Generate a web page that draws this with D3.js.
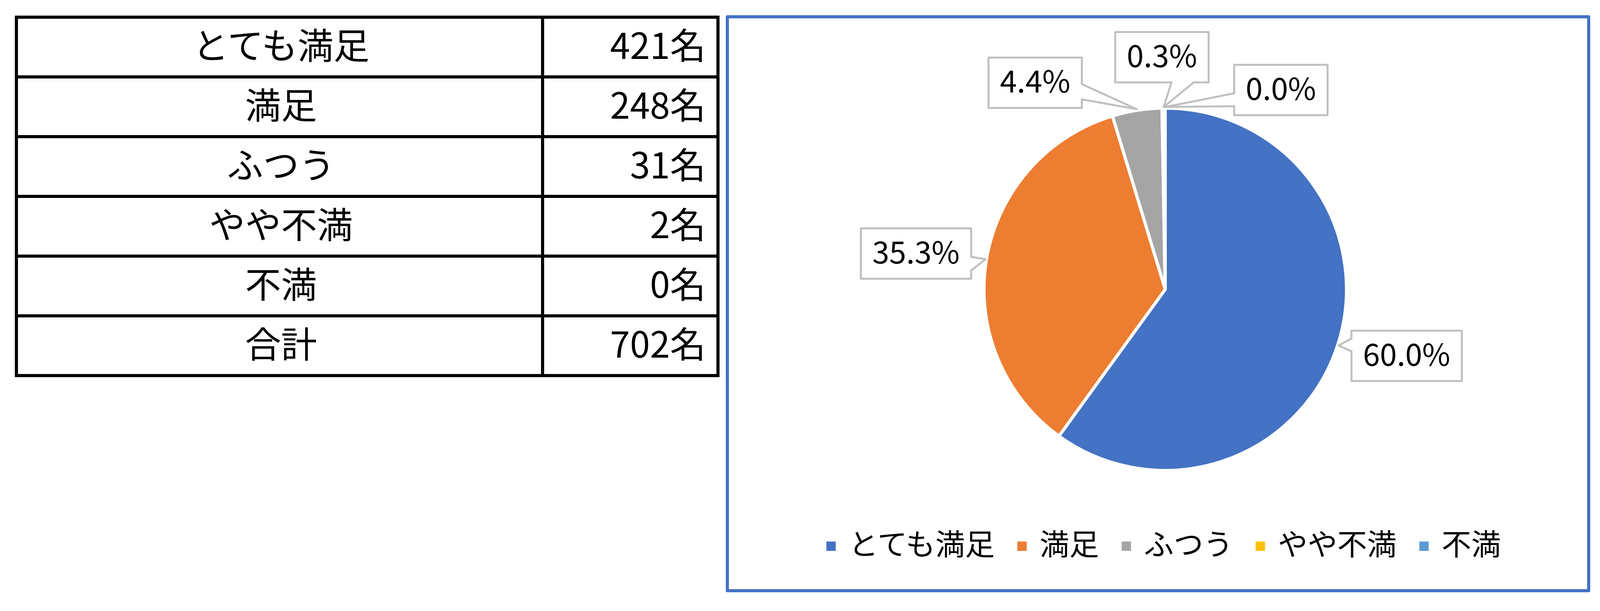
<!DOCTYPE html>
<html>
<head>
<meta charset="utf-8">
<script src="https://cdn.jsdelivr.net/npm/d3@7"></script>
<style>
  body { margin: 0; background: #fff; }
  text { font-family: "Noto Sans CJK JP", "Noto Sans", sans-serif; fill: #000; }
</style>
</head>
<body>
<svg id="js_chart" width="4133" height="1565"></svg>
<script>
// data
const categories = ["とても満足", "満足", "ふつう", "やや不満", "不満"]
const counts = [421, 248, 31, 2, 0]
const total_label = "合計"
const colors = ["#4472C4", "#ED7D31", "#A5A5A5", "#FFC000", "#5B9BD5"]

// callout layout: box centre offset from the pie centre, side the pointer leaves from, pointer base offsets
const callout_offsets = [[618, 170.5], [-638, -91.5], [-333, -529], [-8.5, -594.5], [296, -510.5]]
const callout_sides = ["left", "right", "right", "bottom", "left"]
const callout_bases = [[20, 53], [73, 108], [68, 107], [144, 201], [73, 106]]

window.onload = function() {
  let svg = d3.select("#js_chart")
  svg.append("rect").attr("width", 4133).attr("height", 1565).attr("fill", "#fff")
  render_table(svg)
  render_pie(svg)
}

function render_table(svg){
  let total = d3.sum(counts)
  let row_labels = categories.concat([total_label])
  let row_values = counts.concat([total])

  let y = d3.scaleBand().domain(row_labels).range([44, 962])
  let x = d3.scaleOrdinal().domain(["label", "value"]).range([[42, 1389], [1389, 1838]])

  let g = svg.append("g")
  let rows = g.selectAll("g.row").data(row_labels).enter().append("g").attr("class", "row")

  rows.each(function(d, i){
    let row = d3.select(this)
    ;["label", "value"].forEach(col => {
      let [x0, x1] = x(col)
      row.append("rect")
        .attr("x", x0).attr("y", y(d))
        .attr("width", x1 - x0).attr("height", y.bandwidth())
        .attr("fill", "none").attr("stroke", "#000").attr("stroke-width", 8)
    })
    let [lx0, lx1] = x("label")
    let [vx0, vx1] = x("value")
    row.append("text")
      .attr("x", (lx0 + lx1) / 2 + 4).attr("y", y(d) + 107)
      .attr("text-anchor", "middle").attr("font-size", 92)
      .text(d)
    row.append("text")
      .attr("x", vx1 - 31).attr("y", y(d) + 107)
      .attr("text-anchor", "end").attr("font-size", 92)
      .text(row_values[i] + "名")
  })
}

function render_pie(svg){
  let cx = 2983, cy = 741, radius = 464
  let total = d3.sum(counts)

  // chart frame
  svg.append("rect")
    .attr("x", 1862).attr("y", 43).attr("width", 2205).attr("height", 1470)
    .attr("fill", "none").attr("stroke", "#4472C4").attr("stroke-width", 8)
    .attr("stroke-linejoin", "round")

  let pie = d3.pie().sort(null).value(d => d)
  let arcs = pie(counts)
  let arc = d3.arc().innerRadius(0).outerRadius(radius)
  let rim = d3.arc().innerRadius(radius + 3).outerRadius(radius + 3)

  let g = svg.append("g").attr("transform", `translate(${cx},${cy})`)
  g.selectAll("path.slice").data(arcs).enter().append("path")
    .attr("class", "slice")
    .attr("d", arc)
    .attr("fill", (d, i) => colors[i])
    .attr("stroke", "#fff")
    .attr("stroke-width", 8)
    .attr("stroke-linejoin", "round")

  // callout labels
  let font_size = 78, box_h = 129, pad = 29.5
  arcs.forEach((d, i) => {
    let label = (d.value / total * 100).toFixed(1) + "%"
    let lg = g.append("g")
    let t = lg.append("text")
      .attr("text-anchor", "middle").attr("font-size", font_size)
      .attr("x", callout_offsets[i][0]).attr("y", callout_offsets[i][1] + 25)
      .text(label)
    let w = t.node().getComputedTextLength() + pad * 2
    let x0 = callout_offsets[i][0] - w / 2, x1 = x0 + w
    let y0 = callout_offsets[i][1] - box_h / 2, y1 = y0 + box_h
    let mid = (d.startAngle + d.endAngle) / 2
    let tip = [Math.sin(mid) * (radius + 3), -Math.cos(mid) * (radius + 3)]
    let b = callout_bases[i]
    let side = callout_sides[i]

    let p = d3.path()
    p.moveTo(x0, y0)
    p.lineTo(x1, y0)
    if (side == "right") { p.lineTo(x1, y0 + b[0]); p.lineTo(tip[0], tip[1]); p.lineTo(x1, y0 + b[1]) }
    p.lineTo(x1, y1)
    if (side == "bottom") { p.lineTo(x0 + b[1], y1); p.lineTo(tip[0], tip[1]); p.lineTo(x0 + b[0], y1) }
    p.lineTo(x0, y1)
    if (side == "left") { p.lineTo(x0, y0 + b[1]); p.lineTo(tip[0], tip[1]); p.lineTo(x0, y0 + b[0]) }
    p.closePath()

    lg.insert("path", "text")
      .attr("d", p.toString())
      .attr("fill", "#fff")
      .attr("stroke", "#BFBFBF")
      .attr("stroke-width", 5)
      .attr("stroke-linejoin", "round")
  })

  render_legend(svg)
}

function render_legend(svg){
  let font_size = 76, box = 24, box_gap = 33, item_gap = 58, base_y = 1422, centre_x = 2979
  let lg = svg.append("g")
  let items = lg.selectAll("g.item").data(categories).enter().append("g").attr("class", "item")
  items.append("rect")
    .attr("width", box).attr("height", box)
    .attr("y", 1399 - box / 2)
    .attr("fill", (d, i) => colors[i])
  items.append("text")
    .attr("x", box + box_gap).attr("y", base_y)
    .attr("font-size", font_size)
    .text(d => d)

  let widths = []
  items.each(function(){ widths.push(box + box_gap + d3.select(this).select("text").node().getComputedTextLength()) })
  let full = d3.sum(widths) + item_gap * (widths.length - 1)
  let x = centre_x - full / 2
  items.each(function(d, i){
    d3.select(this).attr("transform", `translate(${x},0)`)
    x += widths[i] + item_gap
  })
}
</script>
</body>
</html>
